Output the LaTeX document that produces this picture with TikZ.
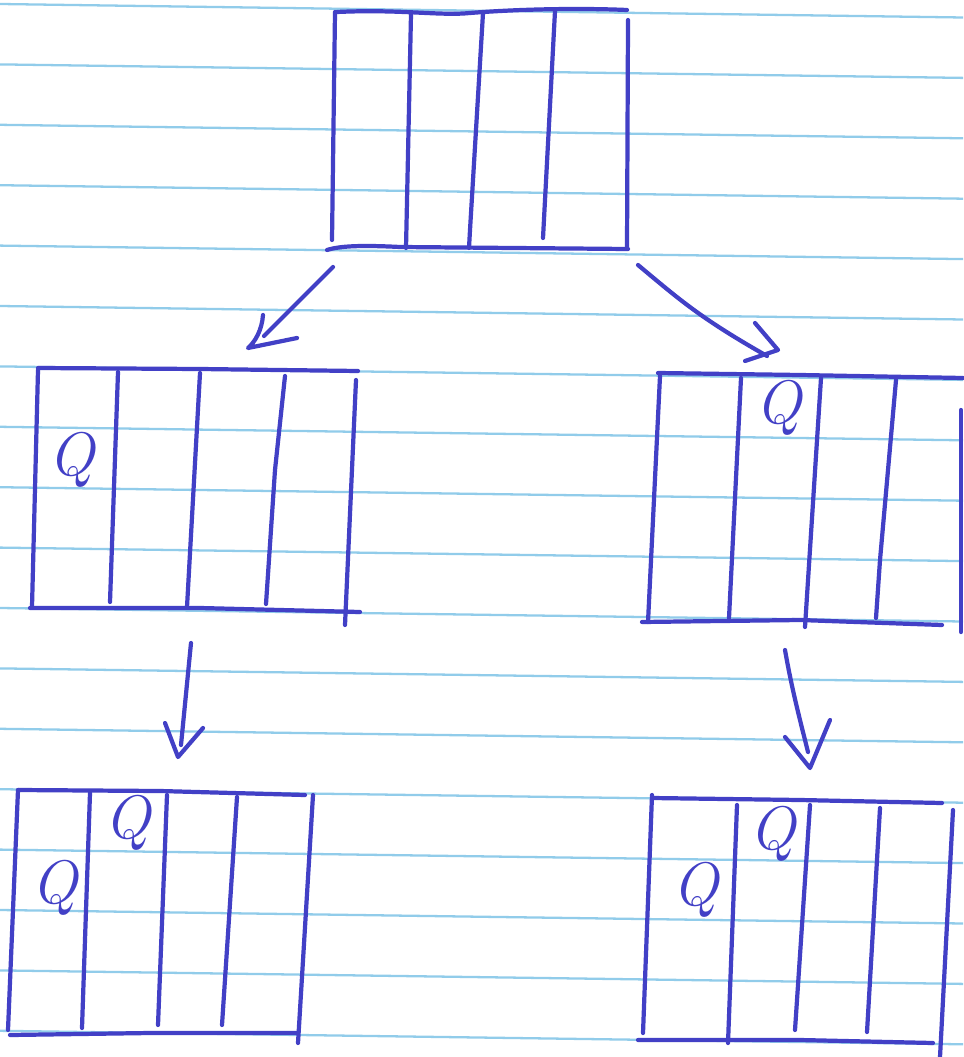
\documentclass[tikz,border=0pt]{standalone}
\usepackage{tikz}
\definecolor{ink}{RGB}{66,64,198}
\definecolor{rule}{RGB}{145,204,234}
\tikzset{
  pen/.style={draw=ink, line width=2.4pt, line cap=round, line join=round},
  ruling/.style={draw=rule, line width=1.3pt},
  qmark/.style={text=ink, inner sep=0pt, font=\fontsize{35}{35}\selectfont\itshape}
}
\begin{document}
\begin{tikzpicture}[x=0.02cm, y=-0.02cm]
\useasboundingbox (0,0) rectangle (963,1057);
\fill[white] (0,0) rectangle (963,1057);
% ruled paper
\foreach \k in {0,...,17} {
  \draw[ruling] (0,{4+60.4*\k}) -- (963,{4+60.4*\k+13.5});
}
% ---------- top box ----------
\draw[pen] (337,12) .. controls (400,9) and (440,16) .. (470,13) .. controls (520,9) and (580,8) .. (627,10);
\draw[pen] (335,12) -- (332,240);
\draw[pen] (411,14) -- (406,248);
\draw[pen] (483,13) -- (470,230) -- (469,248);
\draw[pen] (555,11) -- (543,238);
\draw[pen] (628,20) -- (627,248);
\draw[pen] (327,250) .. controls (340,246) and (360,245) .. (400,247) -- (628,249);
% ---------- arrows from top ----------
\coordinate (a1s) at (333,267);
\coordinate (a1t) at (248,348);
\coordinate (a1b) at (263,315);
\coordinate (a1c) at (297,338);
\draw[pen] (a1s) -- (264,336);
\draw[pen] (a1b) .. controls (262,330) and (255,342) .. (a1t) -- (a1c);
\coordinate (a2s) at (638,265);
\coordinate (a2t) at (778,350);
\coordinate (a2b) at (755,323);
\coordinate (a2c) at (745,361);
\draw[pen] (a2s) .. controls (680,300) and (700,318) .. (767,356);
\draw[pen] (a2b) -- (a2t) -- (a2c);
% ---------- middle left box ----------
\draw[pen] (38,368) -- (200,369) -- (358,371);
\draw[pen] (38,370) -- (32,607);
\draw[pen] (118,372) -- (110,602);
\draw[pen] (200,373) -- (187,607);
\draw[pen] (285,376) -- (275,470) -- (266,604);
\draw[pen] (356,380) -- (345,625);
\draw[pen] (30,608) -- (200,608) -- (360,612);
\node[qmark] (q1) at (72,460) {Q};
% ---------- middle right box ----------
\draw[pen] (658,373) -- (800,375) -- (963,378);
\draw[pen] (660,376) -- (648,622);
\draw[pen] (741,378) -- (729,618);
\draw[pen] (821,378) -- (805,627);
\draw[pen] (896,380) -- (880,560) -- (876,618);
\draw[pen] (961,410) -- (961,632);
\draw[pen] (642,622) -- (800,620) -- (942,625);
\node[qmark] (q2) at (779,408) {Q};
% ---------- arrows down ----------
\coordinate (a3s) at (191,643);
\coordinate (a3t) at (178,757);
\coordinate (a3b) at (165,723);
\coordinate (a3c) at (203,728);
\draw[pen] (a3s) -- (181,745);
\draw[pen] (a3b) -- (a3t) -- (a3c);
\coordinate (a4s) at (785,650);
\coordinate (a4t) at (810,768);
\coordinate (a4b) at (785,737);
\coordinate (a4c) at (830,720);
\draw[pen] (a4s) .. controls (792,690) and (800,720) .. (808,752);
\draw[pen] (a4b) -- (a4t) -- (a4c);
% ---------- bottom left box ----------
\draw[pen] (18,790) -- (160,791) -- (305,795);
\draw[pen] (18,790) -- (8,1030);
\draw[pen] (90,793) -- (82,1028);
\draw[pen] (167,795) -- (158,1025);
\draw[pen] (237,797) -- (222,1025);
\draw[pen] (313,795) -- (298,1043);
\draw[pen] (10,1035) -- (150,1033) -- (297,1033);
\node[qmark] (q3) at (55,888) {Q};
\node[qmark] (q4) at (128,823) {Q};
% ---------- bottom right box ----------
\draw[pen] (652,798) -- (800,800) -- (942,803);
\draw[pen] (652,795) -- (643,1033);
\draw[pen] (737,805) -- (728,1043);
\draw[pen] (810,805) -- (795,1030);
\draw[pen] (880,808) -- (867,1032);
\draw[pen] (953,810) -- (940,1057);
\draw[pen] (638,1040) -- (800,1040) -- (933,1043);
\node[qmark] (q5) at (696,890) {Q};
\node[qmark] (q6) at (773,834) {Q};
\end{tikzpicture}
\end{document}
